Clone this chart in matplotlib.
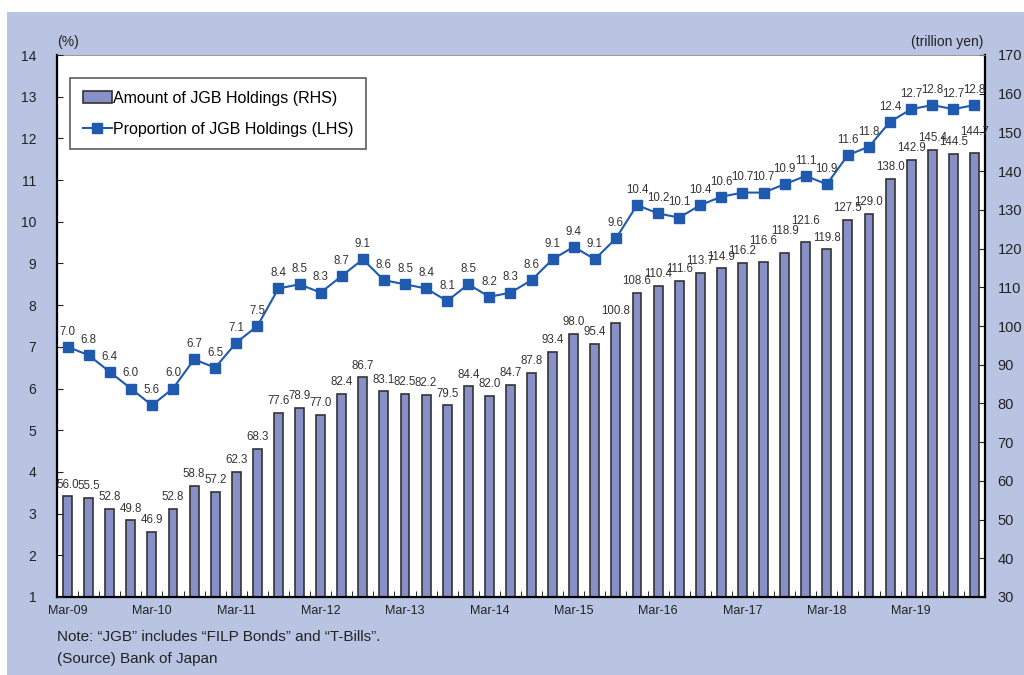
import numpy as np
import matplotlib.pyplot as plt
from matplotlib.patches import Rectangle

plt.rcParams['font.family'] = ['Liberation Sans', 'DejaVu Sans']

# quarterly, Mar-09 .. Dec-19
amount = [56.0, 55.5, 52.8, 49.8, 46.9, 52.8, 58.8, 57.2, 62.3, 68.3, 77.6,
          78.9, 77.0, 82.4, 86.7, 83.1, 82.5, 82.2, 79.5, 84.4, 82.0, 84.7,
          87.8, 93.4, 98.0, 95.4, 100.8, 108.6, 110.4, 111.6, 113.7, 114.9,
          116.2, 116.6, 118.9, 121.6, 119.8, 127.5, 129.0, 138.0, 142.9,
          145.4, 144.5, 144.7]
proportion = [7.0, 6.8, 6.4, 6.0, 5.6, 6.0, 6.7, 6.5, 7.1, 7.5, 8.4, 8.5,
              8.3, 8.7, 9.1, 8.6, 8.5, 8.4, 8.1, 8.5, 8.2, 8.3, 8.6, 9.1,
              9.4, 9.1, 9.6, 10.4, 10.2, 10.1, 10.4, 10.6, 10.7, 10.7, 10.9,
              11.1, 10.9, 11.6, 11.8, 12.4, 12.7, 12.8, 12.7, 12.8]
year_labels = ['Mar-09', 'Mar-10', 'Mar-11', 'Mar-12', 'Mar-13', 'Mar-14',
               'Mar-15', 'Mar-16', 'Mar-17', 'Mar-18', 'Mar-19']

bar_color = '#8890c8'
line_color = '#1f5aae'
panel_color = '#b9c4e3'
txt = '#333333'

fig = plt.figure(figsize=(10.24, 6.75), dpi=100)
fig.patches.append(Rectangle((7 / 1024, 0), 1, 1 - 12 / 675, transform=fig.transFigure,
                             facecolor=panel_color, edgecolor='none', zorder=-10))

ax = fig.add_axes([57 / 1024, 1 - 597 / 675, 928 / 1024, 542 / 675])
ax2 = ax.twinx()
x = np.arange(len(amount))

# bars on the right axis
ax.bar(x, amount, width=0.42, color=bar_color, edgecolor='#333333', linewidth=1.2,
       label='Amount of JGB Holdings (RHS)')

# bar labels: lift a label when it would sit on top of its neighbour's
h = 2.6          # label height in RHS units (~10 px)
prev_y, prev_raised = None, False
for i, v in enumerate(amount):
    y = v + 1.5
    if prev_y is not None and v >= 100 and amount[i - 1] >= 100:
        near = abs(v - amount[i - 1]) < 0.6 and not prev_raised
        clash = prev_raised and y < prev_y + h and y + h > prev_y
        if near or clash:
            y = prev_y + h
    prev_raised = y > v + 1.5
    prev_y = y
    ax.text(i, y, f'{v:.1f}', ha='center', va='bottom', fontsize=8.3, color=txt)

ax.set_ylim(30, 170)
ax.set_yticks(np.arange(30, 171, 10))
ax.yaxis.tick_right()
ax.tick_params(axis='y', direction='in', length=4, pad=9, labelsize=10.5, colors='#222222')
ax.set_xlim(-0.5, len(amount) - 0.5)
ax.set_xticks(x[::4])
ax.set_xticklabels(year_labels)
ax.set_xticks(np.arange(-0.5, len(amount), 1), minor=True)
ax.tick_params(axis='x', which='major', length=0, pad=6, labelsize=9, colors='#222222')
ax.tick_params(axis='x', which='minor', direction='in', length=4)
for s in ['left', 'right', 'bottom']:
    ax.spines[s].set_linewidth(1.6)
ax.spines['top'].set_linewidth(0.6)
ax.spines['top'].set_color('#888888')

# line on the left axis
ax2.plot(x, proportion, '-s', color=line_color, linewidth=1.5, markersize=6.5,
         label='Proportion of JGB Holdings (LHS)')
for xi, v in zip(x, proportion):
    ax2.text(xi, v + 0.22, f'{v:.1f}', ha='center', va='bottom', fontsize=8.3, color=txt)
ax2.set_ylim(1, 14)
ax2.set_yticks(np.arange(1, 15, 1))
ax2.yaxis.tick_left()
ax2.tick_params(axis='y', direction='in', length=4, pad=15, labelsize=10, colors='#222222')
for s in ax2.spines.values():
    s.set_visible(False)

h1, l1 = ax.get_legend_handles_labels()
h2, l2 = ax2.get_legend_handles_labels()
leg = ax2.legend(h1 + h2, l1 + l2, loc='upper left', bbox_to_anchor=(0.014, 0.958),
                 borderaxespad=0, fontsize=11.5, frameon=True, fancybox=False,
                 edgecolor='#333333', handlelength=1.8, handletextpad=0.1,
                 labelspacing=1.0, borderpad=0.8)
leg.get_frame().set_linewidth(1.2)

fig.text(68 / 1024, 1 - 42 / 675, '(%)', ha='center', va='center', fontsize=10, color='#222222')
fig.text(983 / 1024, 1 - 42 / 675, '(trillion yen)', ha='right', va='center', fontsize=10,
         color='#222222')
fig.text(57 / 1024, 1 - 637 / 675, 'Note: \u201cJGB\u201d includes \u201cFILP Bonds\u201d and \u201cT-Bills\u201d.',
         ha='left', va='center', fontsize=11, color='#222222')
fig.text(57 / 1024, 1 - 659 / 675, '(Source) Bank of Japan', ha='left', va='center',
         fontsize=11, color='#222222')

fig.savefig('out.png', dpi=100)
